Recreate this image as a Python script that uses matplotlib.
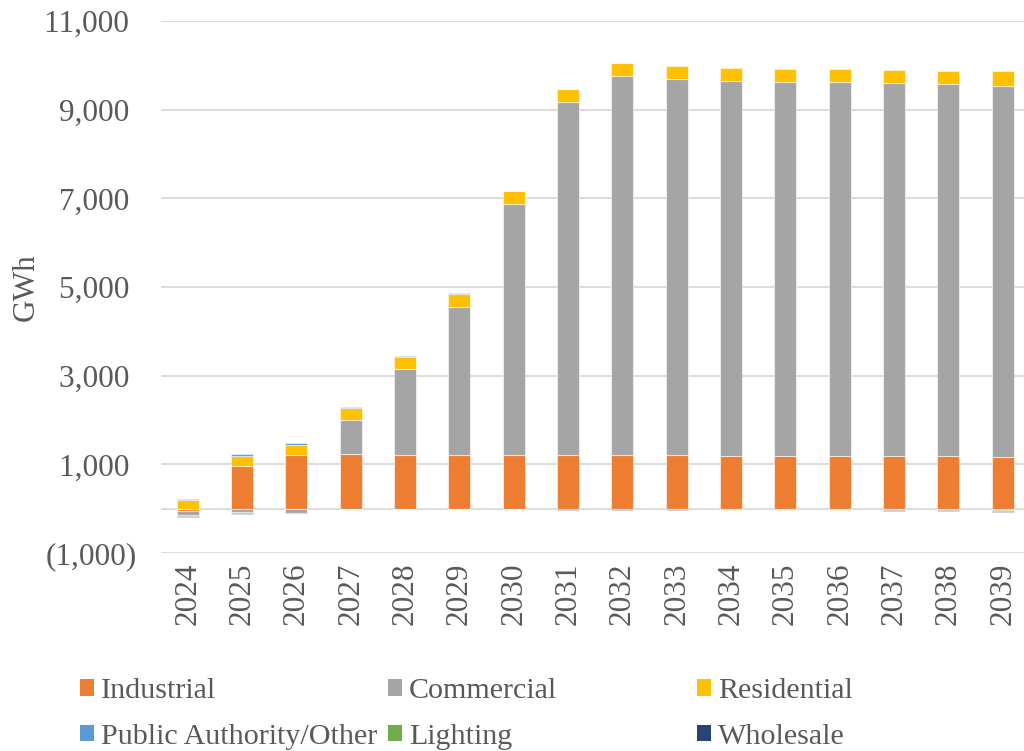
import matplotlib
matplotlib.use("Agg")
import matplotlib.pyplot as plt
from matplotlib.patches import Patch
from matplotlib.ticker import FuncFormatter, FixedLocator
import numpy as np

years = [str(y) for y in range(2024, 2040)]

industrial = [-50, 968, 1210, 1226, 1217, 1203, 1217, 1217, 1217, 1203, 1196, 1180, 1196, 1196, 1180, 1172]
commercial = [-95, -80, -90, 780, 1933, 3352, 5662, 7963, 8549, 8489, 8457, 8444, 8435, 8398, 8392, 8369]
residential = [190, 219, 232, 264, 264, 293, 286, 286, 287, 293, 287, 293, 294, 301, 308, 331]
public_other = [25, 39, 38, 23, 22, 15, 8, 5, 3, -5, -8, -10, -10, -15, -25, -30]
lighting = [-20, -15, -20, -8, -8, -8, -8, -10, -12, -12, -20, -12, -20, -20, -15, -25]
wholesale = [-30, -15, -15, -8, -8, -8, -8, -20, -10, -10, -10, -15, -10, -10, -15, -10]

series_names = ["Industrial", "Commercial", "Residential",
                "Public Authority/Other", "Lighting", "Wholesale"]
series_values = [industrial, commercial, residential, public_other, lighting, wholesale]
series_colors = ["#ED7D31", "#A5A5A5", "#FFC000", "#5B9BD5", "#70AD47", "#264478"]

y_ticks = [-1000, 1000, 3000, 5000, 7000, 9000, 11000]

TEXT = "#595959"
GRID = "#D9D9D9"
FS = 22.5
LEG_FS = 21.6
plt.rcParams["font.family"] = ["Liberation Serif", "DejaVu Serif"]

fig = plt.figure(figsize=(10.24, 7.51), dpi=100)
ax = fig.add_axes([160.5 / 1024, 198 / 751, 869.5 / 1024, 532 / 751])

x = np.arange(len(years))
pos_base = np.zeros(len(years))
neg_base = np.zeros(len(years))
for name, vals, col in zip(series_names, series_values, series_colors):
    v = np.array(vals, dtype=float)
    bottoms = np.where(v >= 0, pos_base, neg_base)
    ax.bar(x, v, width=0.405, bottom=bottoms, color=col,
           edgecolor=(1, 1, 1, 0.55), linewidth=0.8, zorder=3)
    pos_base += np.where(v >= 0, v, 0)
    neg_base += np.where(v < 0, v, 0)

ax.set_xlim(-0.5, len(years) - 0.5)
ax.set_ylim(-1000, 11000)
ax.yaxis.set_major_locator(FixedLocator(y_ticks))


def fmt(v, _pos):
    if v < 0:
        return f"({abs(v):,.0f})"
    return f"{v:,.0f} "


ax.yaxis.set_major_formatter(FuncFormatter(fmt))
ax.grid(axis="y", color=GRID, linewidth=1.3, zorder=0)
ax.axhline(0, color=GRID, linewidth=1.3, zorder=2)
for s in ax.spines.values():
    s.set_visible(False)

ax.set_xticks(x)
ax.set_xticklabels(years, rotation=90, fontsize=FS, color=TEXT)
ax.tick_params(axis="x", length=0, pad=7)
ax.tick_params(axis="y", length=0, pad=17, labelsize=FS, labelcolor=TEXT)

ax.set_ylabel("GWh", fontsize=FS, color=TEXT)
ax.yaxis.set_label_coords(-0.138, 0.5)

# legend laid out in three columns of two entries each
handles = [Patch(facecolor=c, edgecolor="none") for c in series_colors]
columns = [(0, 3), (1, 4), (2, 5)]
col_x = [80 / 1024, 388 / 1024, 697 / 1024]
for (i, j), cx in zip(columns, col_x):
    fig.legend([handles[i], handles[j]], [series_names[i], series_names[j]],
               loc="upper left", bbox_to_anchor=(cx, 1 - 678 / 751),
               frameon=False, fontsize=LEG_FS, labelcolor=TEXT,
               handlelength=0.47, handleheight=0.47, handletextpad=0.23,
               borderpad=0, borderaxespad=0, labelspacing=0.66)

fig.savefig("out.png", dpi=100)
